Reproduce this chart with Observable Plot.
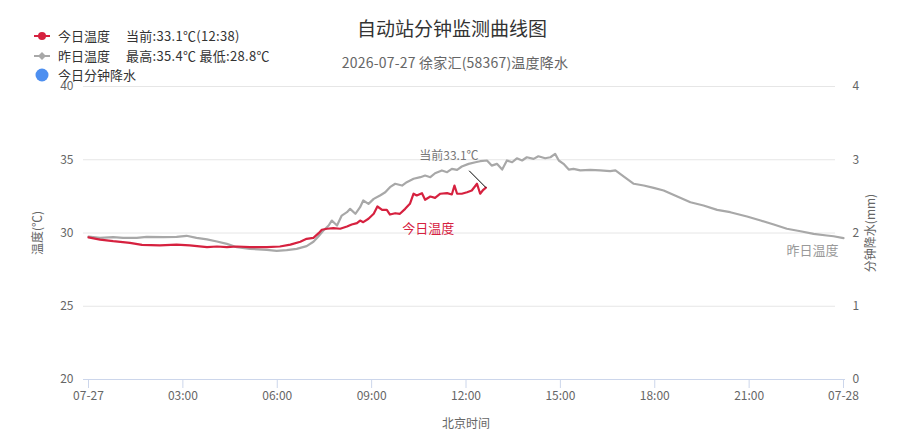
<!DOCTYPE html>
<html>
<head>
<meta charset="utf-8">
<script src="https://cdn.jsdelivr.net/npm/d3@7"></script>
<script src="https://cdn.jsdelivr.net/npm/@observablehq/plot@0.6"></script>
<style>
  body { margin: 0; background: #fff; }
  #wrap { position: relative; width: 904px; height: 443px; font-family: "Noto Sans CJK SC", "Noto Sans", sans-serif; }
  .abs { position: absolute; line-height: 1; white-space: nowrap; }
  .title { left: 0; width: 904px; top: 18px; text-align: center; font-size: 19px; color: #333; }
  .subtitle { left: 0; width: 910px; top: 55px; text-align: center; font-size: 14px; color: #666; letter-spacing: 0.2px; }
  .leg { left: 30px; font-size: 13px; color: #333; height: 16px; line-height: 16px; display: flex; align-items: center; }
  .leg svg { margin-right: 6px; }
  .leg .extra { margin-left: 16px; letter-spacing: 0.3px; }
</style>
</head>
<body>
<div id="wrap">
  <div id="chart"></div>
</div>
<script>
// ---- data ----
const dayStart = "2026-07-27";
const dayEnd = "2026-07-28";
const titleText = "自动站分钟监测曲线图";
const subtitleText = "2026-07-27 徐家汇(58367)温度降水";

const todayTimes = ["00:00","00:22","00:47","01:19","01:42","02:16","02:48","03:13","03:46","04:05","04:24","04:43","05:08","05:40","06:05","06:25","06:44","06:56","07:09","07:19","07:25","07:35","07:47","08:00","08:13","08:22","08:32","08:38","08:44","08:54","09:04","09:11","09:20","09:29","09:35","09:45","09:54","10:04","10:13","10:20","10:26","10:36","10:42","10:52","11:01","11:11","11:24","11:33","11:38","11:43","11:52","12:02","12:11","12:21","12:27","12:33","12:38"];
const todayTemps = [29.7,29.55,29.44,29.33,29.19,29.15,29.2,29.15,29.03,29.08,29.03,29.08,29.03,29.03,29.08,29.21,29.4,29.6,29.67,29.99,30.22,30.29,30.33,30.29,30.44,30.58,30.67,30.85,30.74,30.97,31.31,31.81,31.58,31.58,31.26,31.35,31.31,31.65,31.99,32.68,32.56,32.72,32.27,32.49,32.4,32.68,32.72,32.63,33.24,32.68,32.68,32.78,32.9,33.36,32.68,32.95,33.1];

const yestTimes = ["00:00","00:22","00:47","01:06","01:32","01:51","02:23","02:48","03:07","03:26","03:46","04:05","04:24","04:43","05:08","05:40","05:59","06:18","06:37","06:56","07:09","07:18","07:28","07:38","07:44","07:54","08:03","08:13","08:19","08:29","08:38","08:44","08:54","09:04","09:16","09:26","09:35","09:45","09:58","10:07","10:20","10:33","10:42","10:52","11:01","11:14","11:24","11:33","11:43","11:52","12:05","12:18","12:27","12:40","12:49","12:59","13:09","13:18","13:28","13:37","13:47","13:56","14:09","14:18","14:31","14:41","14:50","14:57","15:06","15:16","15:25","15:38","15:57","16:16","16:35","16:45","16:54","17:07","17:20","17:39","17:58","18:17","18:43","19:08","19:33","19:59","20:24","20:56","21:22","21:47","22:12","22:38","23:03","23:28","23:41","24:00"];
const yestTemps = [29.76,29.67,29.72,29.67,29.67,29.74,29.72,29.74,29.81,29.67,29.56,29.42,29.26,29.03,28.92,28.85,28.78,28.83,28.92,29.1,29.4,29.75,30.17,30.51,30.85,30.51,31.19,31.42,31.65,31.31,31.76,32.22,31.99,32.33,32.56,32.78,33.13,33.36,33.24,33.47,33.7,33.81,33.92,33.81,34.08,34.27,34.15,34.38,34.31,34.54,34.72,34.83,34.9,34.95,34.6,34.72,34.33,34.95,34.83,35.1,34.95,35.17,35.06,35.24,35.1,35.17,35.4,34.95,34.72,34.33,34.38,34.27,34.31,34.27,34.22,34.27,34.04,33.7,33.36,33.24,33.08,32.9,32.49,32.1,31.88,31.58,31.42,31.13,30.85,30.58,30.29,30.12,29.94,29.83,29.78,29.65];

const tempTicks = [20, 25, 30, 35, 40];
const rainTicks = [0, 1, 2, 3, 4];
const hourTicks = [0, 3, 6, 9, 12, 15, 18, 21, 24];

const todayName = "今日温度";
const yestName = "昨日温度";
const rainName = "今日分钟降水";
const colors = { today: "#d6213f", yest: "#a8a8a8", rain: "#4d8ff0" };

// ---- build ----
const base = new Date(dayStart + "T00:00:00Z");
const toDate = s => { const [h, m] = s.split(":").map(Number); return new Date(base.getTime() + (h * 60 + m) * 60000); };
const today = todayTimes.map((t, i) => ({ time: toDate(t), temp: todayTemps[i], label: t }));
const yest = yestTimes.map((t, i) => ({ time: toDate(t), temp: yestTemps[i] }));
const last = today[today.length - 1];
const yMax = d3.max(yestTemps), yMin = d3.min(yestTemps);

const xTickDates = hourTicks.map(h => new Date(base.getTime() + h * 3600000));
const fmtTick = d => d.getUTCHours() === 0 ? d3.utcFormat("%m-%d")(d) : d3.utcFormat("%H:%M")(d);

const todayLabelAt = today.find(d => d.label === "10:52");
const lastYest = yest[yest.length - 1];

const chart = Plot.plot({
  width: 904,
  height: 443,
  marginTop: 86,
  marginBottom: 64,
  marginLeft: 88,
  marginRight: 61,
  style: { fontFamily: "'Noto Sans CJK SC', 'Noto Sans', sans-serif", fontSize: "12px", color: "#666", background: "#fff" },
  x: { type: "utc", domain: [base, new Date(dayEnd + "T00:00:00Z")] },
  y: { domain: [20, 40] },
  marks: [
    Plot.gridY({ ticks: tempTicks.slice(1), stroke: "#e6e6e6", strokeOpacity: 1, insetLeft: -5, insetRight: 8 }),
    Plot.ruleY([tempTicks[0]], { stroke: "#ccd6eb", insetLeft: -5, insetRight: -2 }),
    Plot.axisY({ anchor: "left", ticks: tempTicks, tickSize: 0, tickPadding: 15, fill: "#666", label: "温度(℃)", labelAnchor: "center", labelOffset: 55, labelArrow: "none" }),
    Plot.axisY({ anchor: "right", ticks: tempTicks, tickSize: 0, tickPadding: 9, fill: "#666", tickFormat: d => String(rainTicks[tempTicks.indexOf(d)]), label: "分钟降水(mm)", labelAnchor: "center", labelOffset: 31, labelArrow: "none" }),
    Plot.axisX({ ticks: xTickDates, tickSize: 9, tickPadding: 3, stroke: "#ccd6eb", fill: "#666", tickFormat: fmtTick, label: "北京时间", labelAnchor: "center", labelOffset: 48, labelArrow: "none" }),
    Plot.line(yest, { x: "time", y: "temp", stroke: colors.yest, strokeWidth: 2.2 }),
    Plot.line(today, { x: "time", y: "temp", stroke: colors.today, strokeWidth: 2.2 }),
    Plot.link([last], { x1: "time", y1: "temp", x2: d => new Date(d.time.getTime() - 32 * 60000), y2: d => d.temp + 1.15, stroke: "#000", strokeWidth: 1 }),
    Plot.text([last], { x: "time", y: "temp", text: d => `当前${d.temp.toFixed(1)}℃`, dx: -37, dy: -31, fill: "#777", fontSize: 12 }),
    Plot.text([todayLabelAt], { x: "time", y: "temp", text: () => todayName, dx: -2, dy: 32, fill: colors.today, fontSize: 13 }),
    Plot.text([lastYest], { x: "time", y: "temp", text: () => yestName, textAnchor: "end", dx: -5, dy: 13, fill: "#999", fontSize: 13 })
  ]
});
document.getElementById("chart").appendChild(chart);

// ---- title, subtitle, legend ----
const wrap = document.getElementById("wrap");
function addDiv(cls, html, top) {
  const d = document.createElement("div");
  d.className = "abs " + cls;
  d.innerHTML = html;
  if (top != null) d.style.top = top + "px";
  wrap.appendChild(d);
  return d;
}
addDiv("title", titleText);
addDiv("subtitle", subtitleText);
const lineMarker = (c, shape) => `<svg width="22" height="12" viewBox="0 0 22 12"><line x1="4" y1="6" x2="20" y2="6" stroke="${c}" stroke-width="2"/>${shape === "circle" ? `<circle cx="12" cy="6" r="4" fill="${c}"/>` : `<path d="M12 2 L16 6 L12 10 L8 6 Z" fill="${c}"/>`}</svg>`;
addDiv("leg", `${lineMarker(colors.today, "circle")}<span>${todayName}</span><span class="extra">当前:${last.temp.toFixed(1)}℃(${last.label})</span>`, 28);
addDiv("leg", `${lineMarker(colors.yest, "diamond")}<span>${yestName}</span><span class="extra">最高:${yMax.toFixed(1)}℃ 最低:${yMin.toFixed(1)}℃</span>`, 48);
addDiv("leg", `<svg width="22" height="14" viewBox="0 0 22 14"><circle cx="12" cy="7" r="6.5" fill="${colors.rain}"/></svg><span>${rainName}</span>`, 67);
</script>
</body>
</html>
